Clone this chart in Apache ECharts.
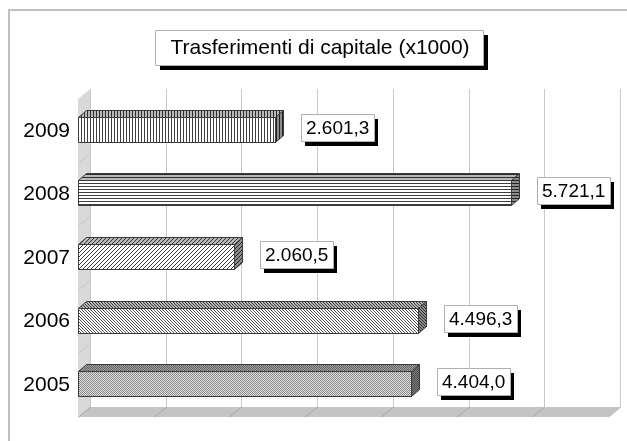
<!DOCTYPE html>
<html>
<head>
<meta charset="utf-8">
<script src="https://cdn.jsdelivr.net/npm/echarts@6/dist/echarts.min.js"></script>
<style>
  html, body { margin: 0; padding: 0; background: #fff; }
  #chart { width: 627px; height: 441px; }
</style>
</head>
<body>
<div id="chart"></div>
<script>
// ---- data ----
const years = ['2005', '2006', '2007', '2008', '2009'];
const values = [4404.0, 4496.3, 2060.5, 5721.1, 2601.3];
const gridTicks = [0, 1000, 2000, 3000, 4000, 5000, 6000, 7000];
const titleText = 'Trasferimenti di capitale (x1000)';

// ---- look ----
const FONT = 'Arial, "Liberation Sans", sans-serif';
const WALL_DX = 12, WALL_DY = -10;   // depth of walls / floor
const BAR_DX = 8, BAR_DY = -7;       // depth of each bar
const BAR_H = 25;                    // front face height
const BAR_SHIFT = -1;                // front face centre relative to band centre

// Italian number format: 4.404,0
function fmt(v) {
  const s = v.toFixed(1).split('.');
  return s[0].replace(/\B(?=(\d{3})+(?!\d))/g, '.') + ',' + s[1];
}

const measureCtx = document.createElement('canvas').getContext('2d');
function textWidth(s, size) {
  measureCtx.font = size + 'px ' + FONT;
  return measureCtx.measureText(s).width;
}

function pattern(w, h, bg, paint) {
  const c = document.createElement('canvas');
  c.width = w; c.height = h;
  const g = c.getContext('2d');
  g.fillStyle = bg; g.fillRect(0, 0, w, h);
  paint(g);
  return { image: c, repeat: 'repeat' };
}
function dots(list, col) {
  return g => { g.fillStyle = col; list.forEach(p => g.fillRect(p[0], p[1], 1, 1)); };
}

// one fill pattern per year, same order as years
const fills = [
  pattern(2, 2, '#e0e0e0', dots([[0, 0], [1, 1]], '#8a8a8a')),                    // 2005 fine check
  pattern(3, 3, '#ffffff', dots([[0, 0], [1, 1], [2, 2]], '#505050')),            // 2006 dense diagonal
  pattern(4, 4, '#ffffff', dots([[3, 0], [2, 1], [1, 2], [0, 3]], '#404040')),    // 2007 diagonal
  pattern(1, 3, '#ffffff', dots([[0, 0]], '#404040')),                             // 2008 horizontal
  pattern(3, 1, '#ffffff', dots([[0, 0]], '#404040'))                              // 2009 vertical
];

function poly(points, style, z2) {
  return { type: 'polygon', shape: { points: points }, style: style, z2: z2 || 0 };
}

// walls and floor
function renderWalls(params, api) {
  const n = years.length;
  const band = api.size([0, 1])[1];
  const xL = Math.round(api.coord([gridTicks[0], 0])[0]);
  const xR = Math.round(api.coord([gridTicks[gridTicks.length - 1], 0])[0]);
  const yTop = Math.round(api.coord([0, n - 1])[1] - band / 2);
  const yBot = Math.round(api.coord([0, 0])[1] + band / 2);
  const children = [];
  // left side wall
  children.push(poly([[xL, yTop], [xL + WALL_DX, yTop + WALL_DY], [xL + WALL_DX, yBot + WALL_DY], [xL, yBot]],
    { fill: '#d9d9d9', stroke: null }));
  // floor
  children.push(poly([[xL + WALL_DX, yBot + WALL_DY], [xR + WALL_DX, yBot + WALL_DY], [xR, yBot], [xL, yBot]],
    { fill: '#c4c4c4', stroke: null }));
  // category separators on the side wall
  for (let i = 1; i < n; i++) {
    const y = Math.round(api.coord([0, i])[1] + band / 2) + 0.5;
    children.push({ type: 'line', shape: { x1: xL, y1: y, x2: xL + WALL_DX, y2: y + WALL_DY },
      style: { stroke: '#c6c6c6', lineWidth: 1 } });
  }
  return { type: 'group', children: children };
}

// vertical gridlines on the back wall and floor
function renderGrid(params, api) {
  const n = years.length;
  const band = api.size([0, 1])[1];
  const x = Math.round(api.coord([api.value(0), 0])[0]);
  const yTop = Math.round(api.coord([0, n - 1])[1] - band / 2);
  const yBot = Math.round(api.coord([0, 0])[1] + band / 2);
  const xb = x + WALL_DX + 0.5;
  return { type: 'group', children: [
    { type: 'line', shape: { x1: xb, y1: yTop + WALL_DY, x2: xb, y2: yBot + WALL_DY },
      style: { stroke: '#c8c8c8', lineWidth: 1 } },
    { type: 'line', shape: { x1: xb, y1: yBot + WALL_DY, x2: x + 0.5, y2: yBot },
      style: { stroke: '#a8a8a8', lineWidth: 1 } }
  ] };
}

// 3D bars with their boxed value labels
function renderBar(params, api) {
  const c = api.value(0);
  const v = api.value(1);
  const i = params.dataIndex;
  const x0 = Math.round(api.coord([0, c])[0]) + 0.5;
  const x1 = Math.round(api.coord([v, c])[0]) + 0.5;
  const cy = Math.round(api.coord([0, c])[1] + BAR_SHIFT);
  const yT = cy - Math.round(BAR_H / 2) + 0.5;
  const yB = yT + BAR_H;
  const fill = fills[i];
  const edge = { stroke: '#3a3a3a', lineWidth: 1 };
  const front = [[x0, yT], [x1, yT], [x1, yB], [x0, yB]];
  const top = [[x0, yT], [x0 + BAR_DX, yT + BAR_DY], [x1 + BAR_DX, yT + BAR_DY], [x1, yT]];
  const side = [[x1, yT], [x1 + BAR_DX, yT + BAR_DY], [x1 + BAR_DX, yB + BAR_DY], [x1, yB]];

  const label = fmt(v);
  const fs = 19;
  const bw = Math.round(textWidth(label, fs)) + 10;
  const bh = 27;
  const bx = Math.round(x1) + 25;
  const by = cy - 16;

  return { type: 'group', children: [
    poly(front, { fill: fill }),
    poly(front, Object.assign({ fill: null }, edge)),
    poly(top, { fill: fill }),
    poly(top, Object.assign({ fill: 'rgba(0,0,0,0.28)' }, edge)),
    poly(side, { fill: fill }),
    poly(side, Object.assign({ fill: 'rgba(0,0,0,0.45)' }, edge)),
    { type: 'rect', shape: { x: bx + 4, y: by + 5, width: bw, height: bh }, style: { fill: '#000' } },
    { type: 'rect', shape: { x: bx + 0.5, y: by + 0.5, width: bw, height: bh },
      style: { fill: '#fff', stroke: '#b0b0b0', lineWidth: 1 } },
    { type: 'text', x: bx + 5, y: by + bh / 2 + 1,
      style: { text: label, fill: '#000', font: fs + 'px ' + FONT, textAlign: 'left', textVerticalAlign: 'middle' } }
  ] };
}

const chart = echarts.init(document.getElementById('chart'), null, { renderer: 'canvas' });
chart.setOption({
  animation: false,
  backgroundColor: '#fff',
  graphic: [
    // chart frame
    { type: 'rect', shape: { x: 9, y: 10, width: 640, height: 460 },
      style: { fill: null, stroke: '#c0c0c0', lineWidth: 2 }, silent: true },
    // title box
    { type: 'rect', shape: { x: 160, y: 35, width: 328, height: 35 }, style: { fill: '#000' } },
    { type: 'rect', shape: { x: 155.5, y: 30.5, width: 328, height: 35 },
      style: { fill: '#fff', stroke: '#b0b0b0', lineWidth: 1 } },
    { type: 'text', x: 320, y: 48,
      style: { text: titleText, fill: '#000', font: '21px ' + FONT, textAlign: 'center', textVerticalAlign: 'middle' } }
  ],
  grid: { left: 78, top: 99, width: 530, height: 318, containLabel: false },
  xAxis: { type: 'value', min: 0, max: 7000, interval: 1000, show: false },
  yAxis: {
    type: 'category', data: years,
    axisLine: { show: false }, axisTick: { show: false }, splitLine: { show: false },
    axisLabel: { fontSize: 21, color: '#000', fontFamily: FONT, margin: 8 }
  },
  series: [
    { type: 'custom', renderItem: renderWalls, data: [[0]], encode: { x: 0 }, clip: false, z: 1, silent: true },
    { type: 'custom', renderItem: renderGrid, data: gridTicks.map(t => [t]), encode: { x: 0 }, clip: false, z: 2, silent: true },
    { type: 'custom', renderItem: renderBar, data: values.map((v, i) => [i, v]),
      encode: { x: 1, y: 0 }, clip: false, z: 3 }
  ]
});
</script>
</body>
</html>
